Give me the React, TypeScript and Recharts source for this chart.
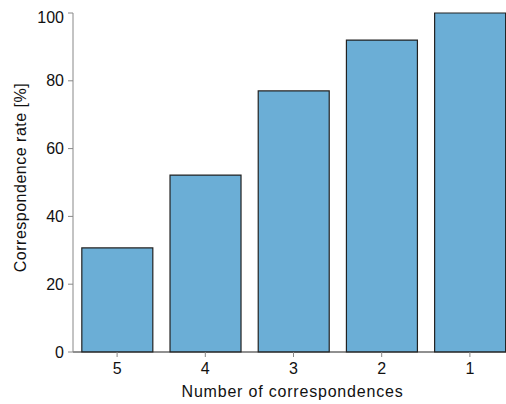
import { BarChart, Bar, XAxis, YAxis, Label } from "recharts";

const categories = ["5", "4", "3", "2", "1"];
const rates = [30.7, 52.2, 77.0, 92.0, 100];
const yTicks = [0, 20, 40, 60, 80, 100];

const data = categories.map((c, i) => ({ name: c, rate: rates[i] }));

const FONT = '"Liberation Sans", Arial, sans-serif';
const TICK = { fontSize: 16, fill: "#111", fontFamily: FONT } as const;

// the right-most bar runs to the window edge, so drop the body margin and pad instead
if (typeof document !== "undefined") document.body.style.margin = "0";

export default function App() {
  return (
    <div
      style={{
        width: 506,
        height: 404,
        paddingLeft: 8,
        paddingTop: 8,
        boxSizing: "border-box",
        overflow: "hidden",
      }}
    >
      <BarChart
        width={510}
        height={396}
        data={data}
        margin={{ top: 5, right: 4, bottom: 0, left: 0 }}
        barCategoryGap="10%"
      >
        <XAxis
          dataKey="name"
          height={52}
          tick={TICK}
          tickSize={5}
          tickMargin={6}
          axisLine={{ stroke: "#222", strokeWidth: 1.2 }}
          tickLine={{ stroke: "#888" }}
        >
          <Label
            content={({ viewBox }: any) => (
              <text
                x={284.5}
                y={viewBox.y + 44.5}
                textAnchor="middle"
                fontSize={16}
                letterSpacing={0.8}
                fontFamily={FONT}
                fill="#111"
              >
                Number of correspondences
              </text>
            )}
          />
        </XAxis>
        <YAxis
          width={65}
          domain={[0, 100]}
          ticks={yTicks}
          tick={TICK}
          tickSize={5}
          tickMargin={4}
          axisLine={{ stroke: "#888" }}
          tickLine={{ stroke: "#888" }}
        >
          <Label
            content={({ viewBox }: any) => {
              const cx = 12;
              const cy = viewBox.y + viewBox.height / 2 - 5;
              return (
                <text
                  x={cx}
                  y={cy}
                  transform={`rotate(-90, ${cx}, ${cy})`}
                  textAnchor="middle"
                  dominantBaseline="central"
                  fontSize={16}
                  letterSpacing={0.5}
                  fontFamily={FONT}
                  fill="#111"
                >
                  Correspondence rate [%]
                </text>
              );
            }}
          />
        </YAxis>
        <Bar dataKey="rate" fill="#6baed6" stroke="#222" strokeWidth={1.2} isAnimationActive={false} />
      </BarChart>
    </div>
  );
}
